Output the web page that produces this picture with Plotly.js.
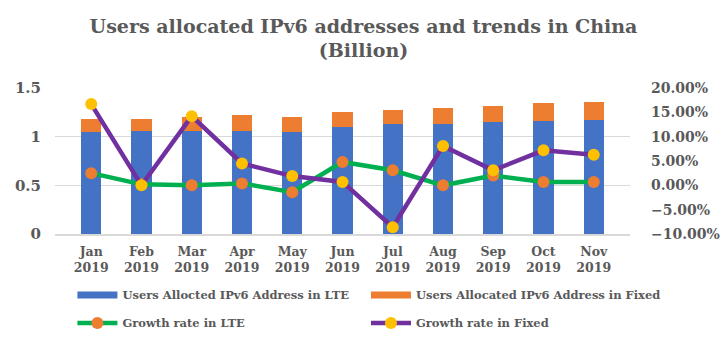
<!DOCTYPE html>
<html><head><meta charset="utf-8">
<script src="https://cdn.plot.ly/plotly-3.0.1.min.js"></script>
<style>html,body{margin:0;padding:0;background:#fff}#chart{width:727px;height:345px}</style>
</head><body><div id="chart"></div>
<script>
const months = ['Jan<br>2019','Feb<br>2019','Mar<br>2019','Apr<br>2019','May<br>2019','Jun<br>2019','Jul<br>2019','Aug<br>2019','Sep<br>2019','Oct<br>2019','Nov<br>2019'];
const lteUsers = [1.05,1.06,1.06,1.06,1.05,1.10,1.13,1.13,1.15,1.16,1.17];
const fixedUsers = [0.13,0.12,0.14,0.16,0.15,0.15,0.14,0.16,0.17,0.185,0.185];
const lteGrowth = [0.025,0.002,0.0,0.004,-0.014,0.048,0.031,0.0,0.020,0.007,0.007];
const fixedGrowth = [0.167,0.0,0.142,0.045,0.019,0.007,-0.086,0.081,0.031,0.072,0.063];
const names = ['Users Allocted IPv6 Address in LTE','Users Allocated IPv6 Address in Fixed','Growth rate in LTE','Growth rate in Fixed'];

const FONT = "Georgia, 'DejaVu Serif', serif";
const GREY = '#595959';
const BLUE = '#4472C4', ORANGE = '#ED7D31', GREEN = '#00B050', PURPLE = '#7030A0', YELLOW = '#FFC000';

const data = [
  {type:'bar', x:months, y:lteUsers, name:names[0], marker:{color:BLUE}, showlegend:false, yaxis:'y'},
  {type:'bar', x:months, y:fixedUsers, name:names[1], marker:{color:ORANGE}, showlegend:false, yaxis:'y'},
  {type:'scatter', mode:'lines', x:[null], y:[null], name:names[0], line:{color:BLUE, width:7}, legend:'legend'},
  {type:'scatter', mode:'lines', x:[null], y:[null], name:names[1], line:{color:ORANGE, width:7}, legend:'legend2'},
  {type:'scatter', mode:'lines+markers', x:months, y:lteGrowth, name:names[2], yaxis:'y2', legend:'legend3',
   line:{color:GREEN, width:4.5}, marker:{color:ORANGE, size:12}},
  {type:'scatter', mode:'lines+markers', x:months, y:fixedGrowth, name:names[3], yaxis:'y2', legend:'legend4',
   line:{color:PURPLE, width:4.5}, marker:{color:YELLOW, size:12}}
];

function leg(x, y) {
  return {orientation:'h', xref:'container', x:x, xanchor:'left', yref:'container', y:y, yanchor:'middle',
    itemwidth:40, font:{family:FONT, size:11.5, color:GREY, weight:'bold'}};
}

const layout = {
  width:727, height:345,
  margin:{l:55, r:97, t:88, b:111},
  paper_bgcolor:'#fff', plot_bgcolor:'#fff',
  font:{family:FONT, color:GREY, weight:'bold'},
  title:{text:'Users allocated IPv6 addresses and trends in China<br>(Billion)',
    font:{family:FONT, size:19, color:GREY, weight:'bold'},
    x:0.5, xanchor:'center', y:0.905, yanchor:'top', yref:'container'},
  barmode:'stack', bargap:0.6,
  xaxis:{type:'category', showline:true, linecolor:'#d9d9d9', linewidth:1.5, ticks:'',
    tickfont:{family:FONT, size:12.5, color:GREY, weight:'bold'}, showgrid:false, ticklabelstandoff:5},
  yaxis:{range:[0,1.5], dtick:0.5, showgrid:true, gridcolor:'#d9d9d9', gridwidth:1.3, zeroline:false,
    tickfont:{family:FONT, size:15, color:GREY, weight:'bold'}, ticklabelstandoff:13},
  yaxis2:{range:[-0.10,0.20], dtick:0.05, tickformat:'.2%', overlaying:'y', side:'right', showgrid:false, zeroline:false,
    tickfont:{family:FONT, size:14, color:GREY, weight:'bold'}, ticklabelstandoff:20},
  legend:leg(0.0996, 0.145),
  legend2:leg(0.5034, 0.145),
  legend3:leg(0.0996, 0.064),
  legend4:leg(0.5034, 0.064)
};

Plotly.newPlot('chart', data, layout, {staticPlot:true});
</script></body></html>
